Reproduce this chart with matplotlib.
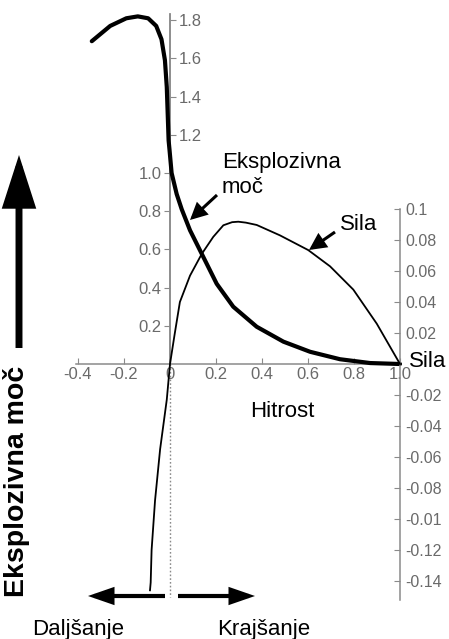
import matplotlib
matplotlib.use('Agg')
import matplotlib.pyplot as plt

plt.rcParams['font.family'] = ['Liberation Sans', 'DejaVu Sans']

# ---------------- data ----------------
force_x = [-0.34, -0.30, -0.26, -0.19, -0.14, -0.095, -0.06, -0.037, -0.022, -0.014,
           -0.010, -0.006, -0.002, 0.007, 0.029, 0.051, 0.087, 0.145, 0.203,
           0.275, 0.377, 0.493, 0.609, 0.739, 0.87, 1.0]
force_y = [1.69, 1.73, 1.77, 1.81, 1.82, 1.81, 1.77, 1.70, 1.59, 1.45,
           1.31, 1.17, 1.12, 1.0, 0.89, 0.81, 0.70, 0.56, 0.42,
           0.30, 0.195, 0.117, 0.064, 0.025, 0.005, 0.0]

power_x = [-0.087, -0.084, -0.080, -0.065, -0.043, -0.014, 0.0, 0.020, 0.043,
           0.087, 0.138, 0.188, 0.232, 0.270, 0.297, 0.330, 0.377, 0.478, 0.601,
           0.696, 0.797, 0.899, 1.0]
power_y = [-0.146, -0.141, -0.120, -0.088, -0.055, -0.023, 0.0, 0.019, 0.040,
           0.057, 0.071, 0.082, 0.0895, 0.0915, 0.0918, 0.0912, 0.0897, 0.0830,
           0.0735, 0.063, 0.048, 0.026, 0.0]

x_ticks = [-0.4, -0.2, 0.0, 0.2, 0.4, 0.6, 0.8, 1.0]
x_tick_labels = ['-0.4', '-0.2', '0', '0.2', '0.4', '0.6', '0.8', '1.0']
left_ticks = [0.2, 0.4, 0.6, 0.8, 1.0, 1.2, 1.4, 1.6, 1.8]
left_tick_labels = ['0.2', '0.4', '0.6', '0.8', '1.0', '1.2', '1.4', '1.6', '1.8']
right_ticks = [0.1, 0.08, 0.06, 0.04, 0.02, -0.02, -0.04, -0.06, -0.08,
               -0.10, -0.12, -0.14]
right_tick_labels = ['0.1', '0.08', '0.06', '0.04', '0.02', '-0.02', '-0.04',
                     '-0.06', '-0.08', '-0.01', '-0.12', '-0.14']

# ---------------- layout ----------------
W, H = 449, 639
fig = plt.figure(figsize=(W / 100, H / 100), dpi=100)
ax = fig.add_axes([0, 0, 1, 1])
ax.patch.set_alpha(0)

X0, XS = 170, 230      # pixel of x=0, px per unit
Y0, YS = 364, 191      # pixel of y=0, px per unit (left scale)
PS = 1550              # px per unit (right scale)
ax.set_xlim(-X0 / XS, (W - X0) / XS)
ax.set_ylim((Y0 - H) / YS, Y0 / YS)

ax2 = ax.twinx()
ax2.set_ylim((Y0 - H) / PS, Y0 / PS)

axis_col = '#8a8a8a'
lab_col = '#6a6a6a'
tick_fs = 12

for a in (ax, ax2):
    for s in a.spines.values():
        s.set_visible(False)

# bottom axis at y=0
ax.spines['bottom'].set_visible(True)
ax.spines['bottom'].set_position(('data', 0))
ax.spines['bottom'].set_bounds(-0.41, 1.0)
ax.spines['bottom'].set_color(axis_col)
ax.spines['bottom'].set_linewidth(1.1)
ax.set_xticks(x_ticks)
ax.set_xticklabels(x_tick_labels)
ax.tick_params(axis='x', direction='in', length=4, color=axis_col,
               labelsize=tick_fs, labelcolor=lab_col, pad=2)

# left axis at x=0 (labels left for low values, right for high values)
for side in ('left', 'right'):
    sp = ax.spines[side]
    sp.set_visible(True)
    sp.set_position(('data', 0))
    sp.set_bounds(0, 1.83)
    sp.set_color(axis_col)
    sp.set_linewidth(1.1)
ax.yaxis.set_ticks_position('both')
ax.set_yticks(left_ticks)
ax.set_yticklabels(left_tick_labels)
ax.tick_params(axis='y', direction='out', length=4, color=axis_col,
               labelsize=tick_fs, labelcolor=lab_col, labelleft=True,
               labelright=True, pad=2)
for t, v in zip(ax.yaxis.get_major_ticks(), left_ticks):
    low = v <= 1.0
    t.tick1line.set_visible(low)
    t.label1.set_visible(low)
    t.tick2line.set_visible(not low)
    t.label2.set_visible(not low)

# right axis at x=1.0
sp = ax2.spines['right']
sp.set_visible(True)
sp.set_position(('data', 1.0))
sp.set_bounds(-0.152, 0.1)
sp.set_color(axis_col)
sp.set_linewidth(1.1)
ax2.set_yticks(right_ticks)
ax2.set_yticklabels(right_tick_labels)
ax2.tick_params(axis='y', direction='in', length=4, color=axis_col,
                labelsize=11.5, labelcolor=lab_col, pad=4)

# dotted line below zero
ax.plot([0, 0], [0, (Y0 - 597) / YS], ls=(0, (1.2, 1.5)), color=axis_col, lw=1.0)

# curves
ax.plot(force_x, force_y, color='black', lw=3.0, solid_capstyle='round',
        solid_joinstyle='round', zorder=5)
ax2.plot(power_x, power_y, color='black', lw=1.3, solid_joinstyle='round', zorder=5)

# ---------------- annotations (pixel -> axes fraction) ----------------
def P(px, py):
    return (px / W, 1 - py / H)

lab_fs = 16
ax.text(*P(222, 168), 'Eksplozivna', transform=ax.transAxes, fontsize=lab_fs,
        ha='left', va='baseline')
ax.text(*P(222, 193), 'moč', transform=ax.transAxes, fontsize=lab_fs,
        ha='left', va='baseline')
ax.text(*P(340, 230), 'Sila', transform=ax.transAxes, fontsize=lab_fs,
        ha='left', va='baseline')
ax.text(*P(409, 367), 'Sila', transform=ax.transAxes, fontsize=lab_fs,
        ha='left', va='baseline')
ax.text(*P(250, 417), 'Hitrost', transform=ax.transAxes, fontsize=lab_fs,
        ha='left', va='baseline')
ax.text(*P(32, 635), 'Daljšanje', transform=ax.transAxes, fontsize=lab_fs,
        ha='left', va='baseline')
ax.text(*P(217, 635), 'Krajšanje', transform=ax.transAxes, fontsize=lab_fs,
        ha='left', va='baseline')
ax.text(*P(17, 481), 'Eksplozivna moč', transform=ax.transAxes, fontsize=20.5,
        fontweight='bold', rotation=90, ha='center', va='center')

def arrow(tail, tip, lw, hl, hw):
    ax.annotate('', xy=P(*tip), xytext=P(*tail), xycoords='axes fraction',
                textcoords='axes fraction',
                arrowprops=dict(arrowstyle=f'-|>,head_length={hl},head_width={hw}',
                                lw=lw, color='black', shrinkA=0, shrinkB=0,
                                joinstyle='miter', capstyle='butt'))

arrow((19, 348), (19, 155), 5.0, 2.8, 0.9)
arrow((217, 195), (190, 220), 2.2, 0.9, 0.45)
arrow((335, 232), (309, 250), 2.2, 0.9, 0.45)
arrow((165, 596), (88, 596), 3.0, 1.3, 0.45)
arrow((178, 596), (255, 596), 3.0, 1.3, 0.45)

fig.savefig('out.png', dpi=100)
